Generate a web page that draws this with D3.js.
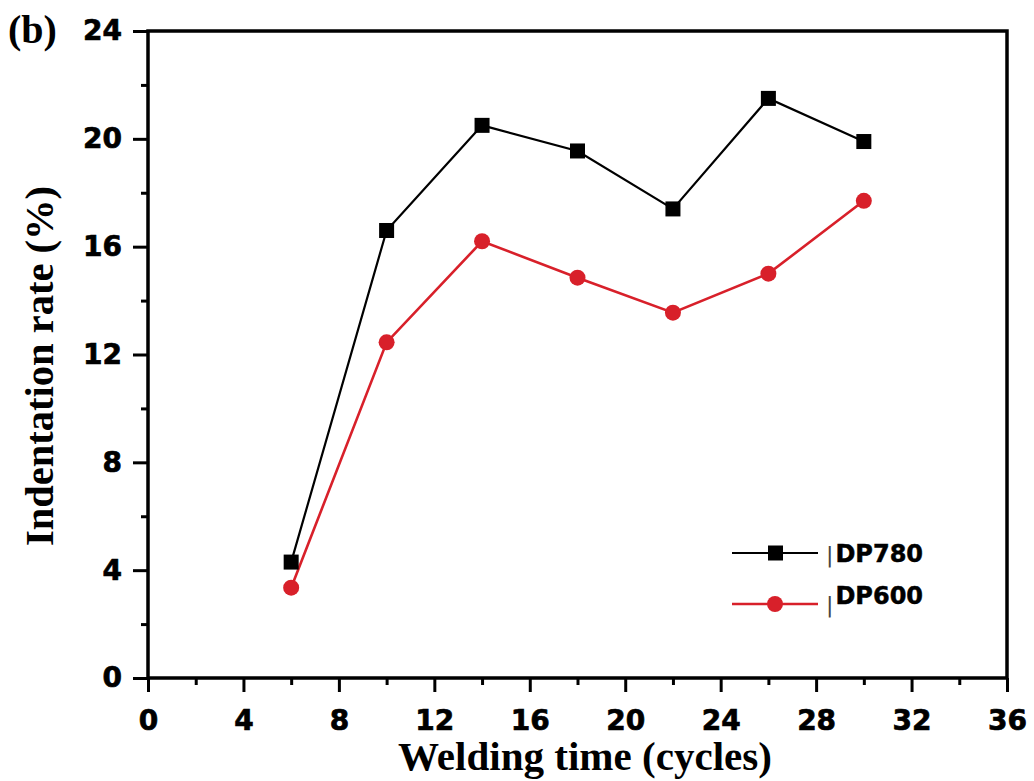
<!DOCTYPE html>
<html>

<head>
    <meta charset="utf-8">
    <title>Indentation rate</title>
    <style>
        body { margin: 0; background: #fff; }
    </style>
</head>

<body>
    <script src='https://d3js.org/d3.v7.min.js'></script>
    <script>
    // welding time in cycles
    const times = [6, 10, 14, 18, 22, 26, 30];
    // indentation rate (%)
    const dp780 = [4.3, 16.6, 20.5, 19.55, 17.4, 21.5, 19.9];
    const dp600 = [3.35, 12.45, 16.2, 14.85, 13.55, 15.0, 17.7];

    const xTicks = [0, 4, 8, 12, 16, 20, 24, 28, 32, 36];
    const yTicks = [0, 4, 8, 12, 16, 20, 24];

    const width = 1034;
    const height = 781;
    const pLeft = 148, pRight = 1007, pTop = 31, pBottom = 678;
    const red = "#d8202a";

    var x = d3.scaleLinear().domain([0, 36]).range([pLeft, pRight]);
    var y = d3.scaleLinear().domain([0, 24]).range([pBottom, pTop]);

    var svg = d3.select("body")
        .append("svg")
        .attr("width", width)
        .attr("height", height);

    // minor ticks
    svg.append("g")
        .attr("transform", "translate(0," + pBottom + ")")
        .call(d3.axisBottom(x).tickValues(d3.range(2, 36, 4)).tickSize(7).tickSizeOuter(0).tickFormat(""))
        .call(g => g.select(".domain").remove());

    svg.append("g")
        .attr("transform", "translate(" + pLeft + ",0)")
        .call(d3.axisLeft(y).tickValues(d3.range(2, 24, 4)).tickSize(7).tickSizeOuter(0).tickFormat(""))
        .call(g => g.select(".domain").remove());

    // major ticks + labels
    var xAxis = svg.append("g")
        .attr("transform", "translate(0," + pBottom + ")")
        .call(d3.axisBottom(x).tickValues(xTicks).tickSize(14).tickSizeOuter(0).tickPadding(18));
    xAxis.select(".domain").remove();

    var yAxis = svg.append("g")
        .attr("transform", "translate(" + pLeft + ",0)")
        .call(d3.axisLeft(y).tickValues(yTicks).tickSize(15).tickSizeOuter(0).tickPadding(11));
    yAxis.select(".domain").remove();

    svg.selectAll(".tick line").attr("stroke", "#000").attr("stroke-width", 3);
    svg.selectAll(".tick text")
        .attr("fill", "#000")
        .attr("stroke", "#000")
        .attr("stroke-width", 0.7)
        .style("font-family", "'DejaVu Sans', sans-serif")
        .style("font-weight", "bold")
        .style("font-size", "28px");

    // frame
    svg.append("rect")
        .attr("x", pLeft)
        .attr("y", pTop)
        .attr("width", pRight - pLeft)
        .attr("height", pBottom - pTop)
        .attr("fill", "none")
        .attr("stroke", "#000")
        .attr("stroke-width", 3.5);

    var line = d3.line()
        .x(function(d, i) { return x(times[i]); })
        .y(function(d) { return y(d); });

    svg.append("path")
        .datum(dp780)
        .attr("d", line)
        .attr("fill", "none")
        .attr("stroke", "#000")
        .attr("stroke-width", 2.2);

    svg.append("path")
        .datum(dp600)
        .attr("d", line)
        .attr("fill", "none")
        .attr("stroke", red)
        .attr("stroke-width", 2.6);

    svg.selectAll(".sq")
        .data(dp780)
        .enter()
        .append("rect")
        .attr("class", "sq")
        .attr("x", function(d, i) { return x(times[i]) - 7.5; })
        .attr("y", function(d) { return y(d) - 7.5; })
        .attr("width", 15)
        .attr("height", 15)
        .attr("fill", "#000");

    svg.selectAll(".dot")
        .data(dp600)
        .enter()
        .append("circle")
        .attr("class", "dot")
        .attr("cx", function(d, i) { return x(times[i]); })
        .attr("cy", function(d) { return y(d); })
        .attr("r", 8)
        .attr("fill", red);

    // legend
    var leg = svg.append("g");
    leg.append("line").attr("x1", 732).attr("x2", 818).attr("y1", 553).attr("y2", 553)
        .attr("stroke", "#000").attr("stroke-width", 2.2);
    leg.append("rect").attr("x", 768).attr("y", 545.5).attr("width", 15).attr("height", 15).attr("fill", "#000");
    leg.append("line").attr("x1", 732).attr("x2", 818).attr("y1", 604).attr("y2", 604)
        .attr("stroke", red).attr("stroke-width", 2.6);
    leg.append("circle").attr("cx", 775).attr("cy", 604).attr("r", 8).attr("fill", red);

    var t1 = leg.append("text").attr("x", 826).attr("y", 562)
        .style("font-family", "'DejaVu Sans', sans-serif").style("font-size", "24px");
    t1.append("tspan").attr("font-weight", "normal").style("font-size", "22px").attr("fill", "#444").text("|");
    t1.append("tspan").attr("dx", 2).attr("font-weight", "bold").attr("stroke", "#000").attr("stroke-width", 0.5).text("DP780");

    var t2 = leg.append("text").attr("x", 826).attr("y", 604)
        .style("font-family", "'DejaVu Sans', sans-serif").style("font-size", "24px");
    t2.append("tspan").attr("dy", 8).attr("font-weight", "normal").style("font-size", "22px").attr("fill", "#444").text("|");
    t2.append("tspan").attr("dx", 2).attr("dy", -8).attr("font-weight", "bold").attr("stroke", "#000").attr("stroke-width", 0.5).text("DP600");

    // titles
    svg.append("text")
        .attr("x", 585)
        .attr("y", 770)
        .attr("text-anchor", "middle")
        .attr("textLength", 374)
        .attr("lengthAdjust", "spacingAndGlyphs")
        .style("font-family", "'Liberation Serif', 'Times New Roman', serif")
        .style("font-weight", "bold")
        .style("font-size", "40px")
        .text("Welding time (cycles)");

    svg.append("text")
        .attr("transform", "translate(53,366) rotate(-90)")
        .attr("text-anchor", "middle")
        .attr("textLength", 360)
        .attr("lengthAdjust", "spacingAndGlyphs")
        .style("font-family", "'Liberation Serif', 'Times New Roman', serif")
        .style("font-weight", "bold")
        .style("font-size", "40px")
        .text("Indentation rate (%)");

    svg.append("text")
        .attr("x", 8)
        .attr("y", 43)
        .style("font-family", "'Liberation Serif', 'Times New Roman', serif")
        .style("font-weight", "bold")
        .style("font-size", "40px")
        .text("(b)");
    </script>
</body>

</html>
